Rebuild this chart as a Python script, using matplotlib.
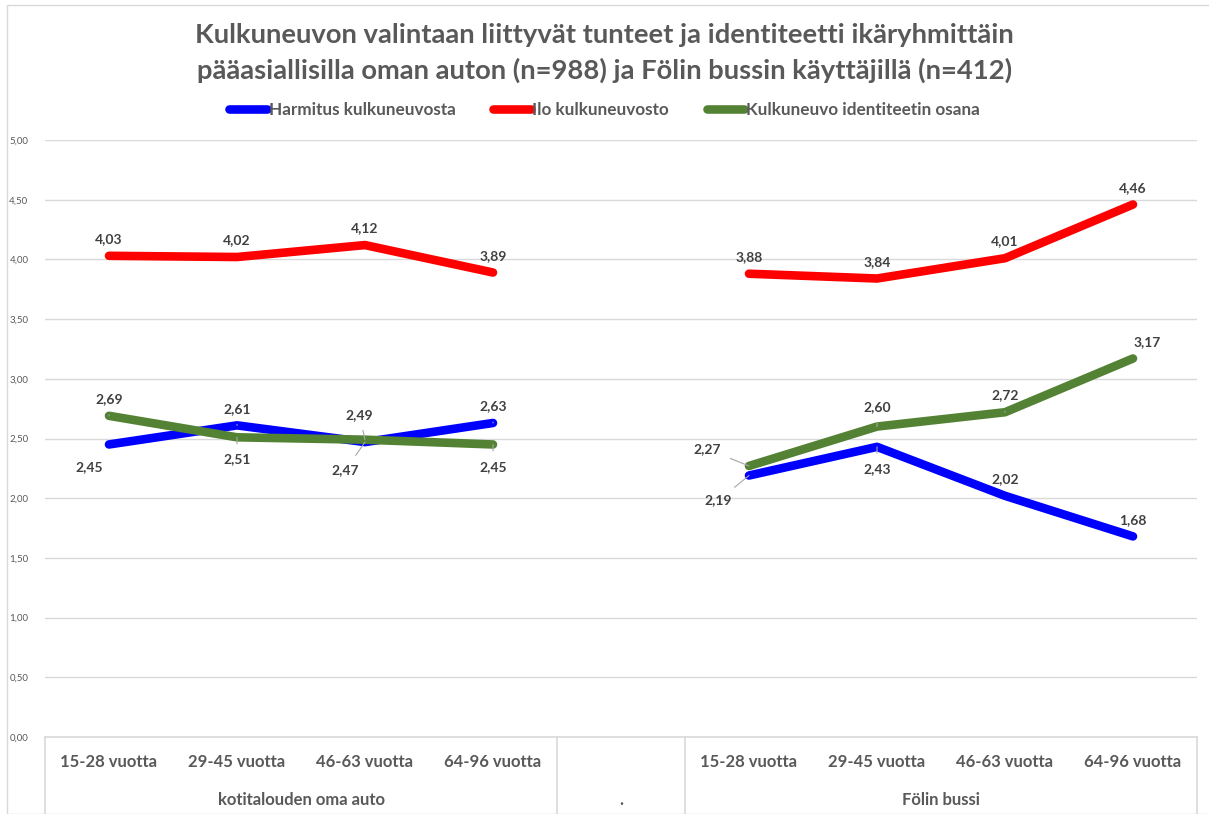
import numpy as np
import matplotlib
matplotlib.use("Agg")
import matplotlib.pyplot as plt
from matplotlib.lines import Line2D
from matplotlib.patches import Rectangle

plt.rcParams['font.family'] = ['Lato', 'DejaVu Sans']

# Data
age_groups = ["15-28 vuotta", "29-45 vuotta", "46-63 vuotta", "64-96 vuotta"]
groups = ["kotitalouden oma auto", ".", "Fölin bussi"]
harmitus = [2.45, 2.61, 2.47, 2.63, np.nan, 2.19, 2.43, 2.02, 1.68]
ilo = [4.03, 4.02, 4.12, 3.89, np.nan, 3.88, 3.84, 4.01, 4.46]
identiteetti = [2.69, 2.51, 2.49, 2.45, np.nan, 2.27, 2.60, 2.72, 3.17]
series_names = ["Harmitus kulkuneuvosta", "Ilo kulkuneuvosto", "Kulkuneuvo identiteetin osana"]
yticks = [0, 0.5, 1, 1.5, 2, 2.5, 3, 3.5, 4, 4.5, 5]

W, H = 1209, 814
fig = plt.figure(figsize=(W / 100, H / 100), dpi=100)
ax = fig.add_axes([45 / W, 1 - 737 / H, (1197 - 45) / W, (737 - 140) / H])

x = np.arange(9)
colors = ["#0000FF", "#FF0000", "#548235"]
lines = []
for vals, c, name in zip([harmitus, ilo, identiteetti], colors, series_names):
    l, = ax.plot(x, vals, color=c, lw=6.2, solid_capstyle='round', label=name, zorder=3)
    lines.append(l)

# label offsets (points) per series, with leader flag
lab_color = "#404040"
offs = {
    0: [(-14, -16, False), (0, 12, True), (-14, -20, True), (0, 12, True), None,
        (-22, -18, True), (0, -16, True), (0, 12, False), (0, 12, False)],
    1: [(0, 12, False), (0, 12, False), (0, 12, False), (0, 12, False), None,
        (0, 12, False), (0, 12, False), (0, 12, False), (0, 12, False)],
    2: [(0, 12, True), (0, -16, True), (-4, 18, True), (0, -16, True), None,
        (-30, 12, True), (0, 14, True), (0, 12, True), (10, 12, False)],
}
for si, vals in enumerate([harmitus, ilo, identiteetti]):
    for i, v in enumerate(vals):
        if np.isnan(v):
            continue
        dx, dy, lead = offs[si][i]
        txt = f"{v:.2f}".replace(".", ",")
        ax.annotate(txt, (i, v), xytext=(dx, dy), textcoords='offset points',
                    ha='center', va='center', fontsize=10, fontweight='bold',
                    color=lab_color, zorder=5,
                    arrowprops=dict(arrowstyle='-', color='#A6A6A6', lw=0.8,
                                    shrinkA=5, shrinkB=0) if lead else None)

ax.set_xlim(-0.5, 8.5)
ax.set_ylim(0, 5)
ax.set_yticks(yticks)
ax.set_yticklabels([f"{t:.2f}".replace(".", ",") for t in yticks], fontsize=7, color="#595959")
ax.tick_params(axis='y', length=0, pad=12)
ax.set_xticks([])
ax.grid(axis='y', color="#D9D9D9", lw=1)
ax.set_axisbelow(True)
for s in ax.spines.values():
    s.set_visible(False)

# category table below the axis
tbl = dict(color="#D9D9D9", lw=1.2, transform=ax.transAxes, clip_on=False)
ax.add_line(Line2D([0, 1], [0, 0], **tbl))
bottom = -(814 - 737) / (737 - 140)
for xv in [-0.5, 3.5, 4.5, 8.5]:
    xf = (xv + 0.5) / 9
    ax.add_line(Line2D([xf, xf], [0, bottom], **tbl))

trans = ax.get_xaxis_transform()
for i in range(9):
    if i == 4:
        continue
    ax.text(i, -0.042, age_groups[i if i < 4 else i - 5], transform=trans,
            ha='center', va='center', fontsize=12, fontweight='bold', color="#595959")
for xc, g in zip([1.5, 4, 6.5], groups):
    ax.text(xc, -0.105, g, transform=trans, ha='center', va='center',
            fontsize=12, fontweight='bold', color="#595959")

fig.text(0.5, 1 - 35 / H, "Kulkuneuvon valintaan liittyvät tunteet ja identiteetti ikäryhmittäin",
         ha='center', va='center', fontsize=19.7, fontweight='bold', color="#595959")
fig.text(0.5, 1 - 70 / H, "pääasiallisilla oman auton (n=988) ja Fölin bussin käyttäjillä (n=412)",
         ha='center', va='center', fontsize=19.7, fontweight='bold', color="#595959")

leg = fig.legend(handles=lines, loc='center', bbox_to_anchor=(0.5, 1 - 110 / H), ncol=3,
                 frameon=False, handlelength=2.2, handletextpad=0.1, columnspacing=2.2,
                 prop=dict(size=12.3, weight='bold'))
for t in leg.get_texts():
    t.set_color("#595959")

fig.patches.append(Rectangle((7 / W, 0), 1, 1 - 5 / H, transform=fig.transFigure,
                             fill=False, edgecolor="#D9D9D9", lw=1))

fig.savefig("out.png", dpi=100, facecolor="white")
